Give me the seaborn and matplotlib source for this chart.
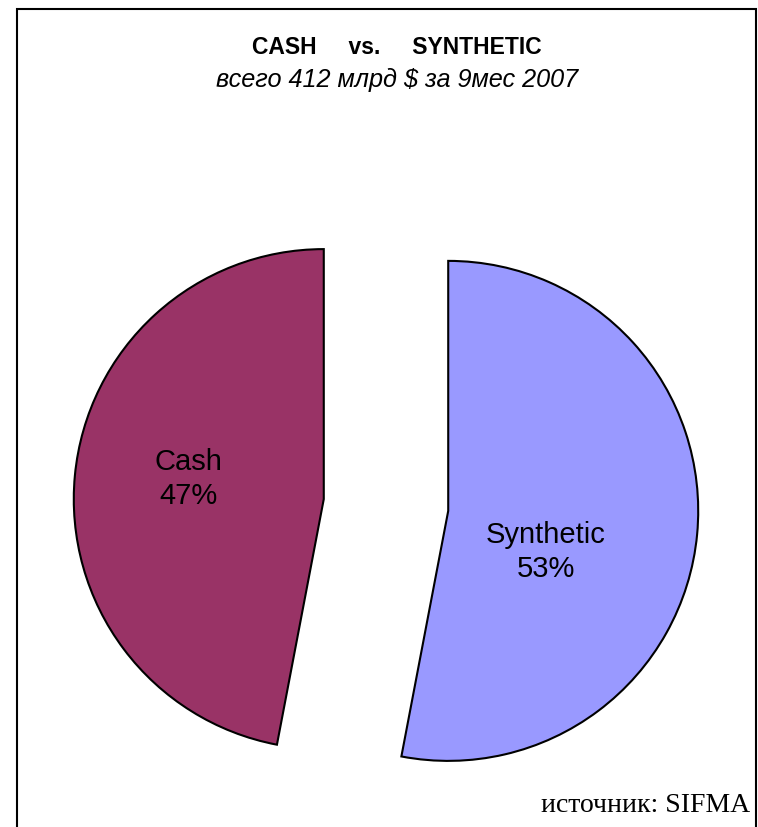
import matplotlib
matplotlib.use("Agg")
import matplotlib.pyplot as plt
from matplotlib.patches import Rectangle
import seaborn as sns

# Share of cash vs synthetic issuance, 9 months 2007
categories = ["Synthetic", "Cash"]
shares = [53, 47]
colors = ["#9999FF", "#993366"]

title = "CASH     vs.     SYNTHETIC"
subtitle = "всего 412 млрд $ за 9мес 2007"
source = "источник: SIFMA"

sns.set_theme(style="white")
plt.rcParams["font.family"] = ["Liberation Sans", "DejaVu Sans"]
plt.rcParams["text.color"] = "black"

W, H = 758, 827
fig = plt.figure(figsize=(W / 100, H / 100), dpi=100)
ax = fig.add_axes([0, 0, 1, 1])

# pie centre and radius in pixels
cx, cy, R = 386, 505, 250

ax.pie(
    shares,
    colors=colors,
    startangle=90,
    counterclock=False,
    explode=[0.25, 0.25],
    radius=1.0,
    center=(0, 0),
    frame=True,
    wedgeprops=dict(edgecolor="black", linewidth=1.5),
)
ax.set_xlim(-cx / R, (W - cx) / R)
ax.set_ylim(-(H - cy) / R, cy / R)
ax.set_aspect("equal")
ax.axis("off")


def px(x, y):
    return (x - cx) / R, (cy - y) / R


for (name, val), pos in zip(zip(categories, shares), [(546, 552), (188, 479)]):
    ax.text(*px(*pos), f"{name}\n{val}%", ha="center", va="center",
            fontsize=21, linespacing=1.3, color="black")

fig.text(397 / W, 1 - 47 / H, title, ha="center", va="center",
         fontsize=16.5, fontweight="bold", color="black")
fig.text(397 / W, 1 - 80 / H, subtitle, ha="center", va="center",
         fontsize=18.2, fontstyle="italic", color="black")
fig.text(750 / W, 1 - 805 / H, source, ha="right", va="center",
         fontsize=20, color="black", family=["Liberation Serif", "DejaVu Serif"])

fig.patches.append(Rectangle((17 / W, -0.01), (756 - 17) / W, 1 - 9 / H + 0.01,
                             transform=fig.transFigure, fill=False,
                             edgecolor="black", linewidth=1.5))

fig.savefig("out.png", dpi=100)
